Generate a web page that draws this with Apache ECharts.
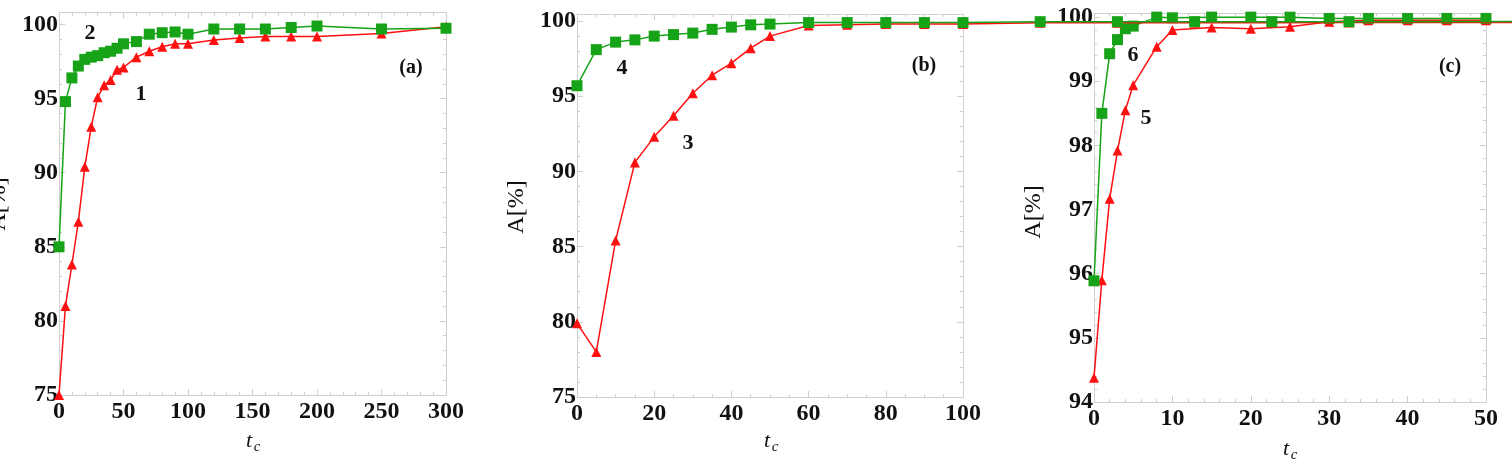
<!DOCTYPE html>
<html>
<head>
<meta charset="utf-8">
<script src="https://cdn.jsdelivr.net/npm/echarts@6/dist/echarts.min.js"></script>
<style>
  html, body { margin: 0; padding: 0; background: #fff; }
  #chart { width: 1512px; height: 462px; }
</style>
</head>
<body>
<div id="chart"></div>
<script>
// panel (a): curves 1 (red) and 2 (green)
var tA = [0, 5, 10, 15, 20, 25, 30, 35, 40, 45, 50, 60, 70, 80, 90, 100, 120, 140, 160, 180, 200, 250, 300];
var a1 = [75.0, 81.0, 83.8, 86.7, 90.4, 93.1, 95.1, 95.9, 96.25, 96.95, 97.1, 97.8, 98.2, 98.5, 98.7, 98.7, 98.95, 99.1, 99.2, 99.2, 99.2, 99.4, 99.85];
var a2 = [85.0, 94.8, 96.4, 97.2, 97.65, 97.8, 97.9, 98.1, 98.2, 98.4, 98.7, 98.85, 99.35, 99.45, 99.5, 99.35, 99.7, 99.7, 99.7, 99.8, 99.9, 99.7, 99.75];

// panel (b): curves 3 (red) and 4 (green), the tail runs past the frame
var tB = [0, 5, 10, 15, 20, 25, 30, 35, 40, 45, 50, 60, 70, 80, 90, 100, 120, 140, 160, 180, 200, 250, 300];
var b3 = [79.9, 78.0, 85.4, 90.6, 92.3, 93.7, 95.2, 96.4, 97.2, 98.2, 99.0, 99.7, 99.75, 99.8, 99.8, 99.8, 99.88, 99.88, 99.88, 99.88, 99.9, 99.9, 99.9];
var b4 = [95.7, 98.1, 98.6, 98.75, 99.0, 99.1, 99.2, 99.45, 99.6, 99.75, 99.8, 99.9, 99.9, 99.9, 99.9, 99.9, 99.96, 99.96, 99.96, 99.96, 99.96, 99.98, 99.98];

// panel (c): curves 5 (red) and 6 (green)
var tC = [0, 1, 2, 3, 4, 5, 8, 10, 15, 20, 25, 30, 35, 40, 45, 50];
var c5 = [94.38, 95.9, 97.17, 97.92, 98.55, 98.94, 99.54, 99.8, 99.84, 99.82, 99.85, 99.93, 99.95, 99.95, 99.95, 99.95];
var c6 = [95.89, 98.5, 99.43, 99.65, 99.82, 99.86, 100.0, 99.99, 100.0, 100.0, 100.0, 99.98, 99.98, 99.98, 99.98, 99.98];

var FONT = "'Liberation Serif', 'Times New Roman', serif";
var FRAME = '#cfcfcf';
var RED = '#ff1010';
var GREEN = '#17a317';

function pairs(xs, ys) {
  return xs.map(function (x, i) { return [x, ys[i]]; });
}

// frame axis: ticks inside, light grey line
function xAx(grid, min, max, interval, split, pos) {
  return {
    type: 'value', gridIndex: grid, position: pos, min: min, max: max, interval: interval,
    axisLine: { show: true, onZero: false, lineStyle: { color: FRAME, width: 1 } },
    axisTick: { show: true, inside: true, length: 6, lineStyle: { color: FRAME } },
    minorTick: { show: true, splitNumber: split, length: 3, lineStyle: { color: FRAME } },
    splitLine: { show: false },
    axisLabel: pos === 'bottom' ? {
      show: true, margin: 5, color: '#111', fontFamily: FONT, fontWeight: 'bold', fontSize: 24
    } : { show: false }
  };
}
function yAx(grid, min, max, interval, split, pos) {
  return {
    type: 'value', gridIndex: grid, position: pos, min: min, max: max, interval: interval,
    axisLine: { show: true, onZero: false, lineStyle: { color: FRAME, width: 1 } },
    axisTick: { show: true, inside: true, length: 6, lineStyle: { color: FRAME } },
    minorTick: { show: true, splitNumber: split, length: 3, lineStyle: { color: FRAME } },
    splitLine: { show: false },
    axisLabel: pos === 'left' ? {
      show: true, margin: 1, color: '#111', fontFamily: FONT, fontWeight: 'bold', fontSize: 24,
      showMaxLabel: false
    } : { show: false }
  };
}
// hidden axis, only used to place the panel (b) tail that runs out of its frame
function hidden(grid, min, max) {
  return {
    type: 'value', gridIndex: grid, min: min, max: max, show: false,
    splitLine: { show: false }
  };
}

function line(name, xi, yi, data, color, symbol, size, z) {
  return {
    name: name, type: 'line', xAxisIndex: xi, yAxisIndex: yi, data: data, z: z || 2,
    clip: false, symbol: symbol, symbolSize: size, showAllSymbol: true,
    lineStyle: { color: color, width: 1.5 },
    itemStyle: { color: color },
    animation: false
  };
}

function label(text, x, y, size, opts) {
  opts = opts || {};
  return {
    type: 'text', x: x, y: y, rotation: opts.rotation || 0, z: 100,
    style: {
      text: text, fill: '#111', align: 'center', verticalAlign: 'middle',
      font: (opts.style || '') + ' ' + (opts.weight || 'bold') + ' ' + size + 'px ' + FONT
    }
  };
}

// panel (b) frame is 386 px for 0..100; the wide hidden grid keeps that scale up to the page edge
var B_W = 386, WIDE_W = 935;

var chart = echarts.init(document.getElementById('chart'));
chart.setOption({
  backgroundColor: '#fff',
  animation: false,
  grid: [
    { left: 59, top: 12.7, width: 387, height: 382.3 },
    { left: 577, top: 14, width: B_W, height: 383 },
    { left: 1094, top: 13.3, width: 392, height: 388.7 },
    { left: 577, top: 14, width: WIDE_W, height: 383 }
  ],
  xAxis: [
    xAx(0, 0, 300, 50, 5, 'bottom'), xAx(0, 0, 300, 50, 5, 'top'),
    xAx(1, 0, 100, 20, 4, 'bottom'), xAx(1, 0, 100, 20, 4, 'top'),
    xAx(2, 0, 50, 10, 5, 'bottom'), xAx(2, 0, 50, 10, 5, 'top'),
    hidden(3, 0, 100 * WIDE_W / B_W)
  ],
  yAxis: [
    yAx(0, 75, 100.8, 5, 5, 'left'), yAx(0, 75, 100.8, 5, 5, 'right'),
    yAx(1, 75, 100.47, 5, 5, 'left'), yAx(1, 75, 100.47, 5, 5, 'right'),
    yAx(2, 94, 100.06, 1, 5, 'left'), yAx(2, 94, 100.06, 1, 5, 'right'),
    hidden(3, 75, 100.47)
  ],
  series: [
    line('1', 0, 0, pairs(tA, a1), RED, 'triangle', 10),
    line('2', 0, 0, pairs(tA, a2), GREEN, 'rect', 11),
    line('5', 4, 4, pairs(tC, c5), RED, 'triangle', 10),
    line('6', 4, 4, pairs(tC, c6), GREEN, 'rect', 11),
    line('3', 6, 6, pairs(tB, b3), RED, 'triangle', 10, 3),
    line('4', 6, 6, pairs(tB, b4), GREEN, 'rect', 11, 3)
  ],
  graphic: [
    label('2', 90, 33, 22), label('1', 141, 94, 22), label('(a)', 411, 68, 20),
    label('4', 622, 68, 22), label('3', 688, 143, 22), label('(b)', 924, 66, 20),
    label('6', 1133, 55, 22), label('5', 1146, 118, 22), label('(c)', 1450, 67, 20),
    label('A[%]', -1, 204, 24, { weight: 'normal', rotation: Math.PI / 2 }),
    label('A[%]', 517, 207, 24, { weight: 'normal', rotation: Math.PI / 2 }),
    label('A[%]', 1034, 212, 24, { weight: 'normal', rotation: Math.PI / 2 }),
    label('t', 249, 441, 22, { weight: 'normal', style: 'italic' }),
    label('c', 257, 447, 15, { weight: 'normal', style: 'italic' }),
    label('t', 767, 441, 22, { weight: 'normal', style: 'italic' }),
    label('c', 775, 447, 15, { weight: 'normal', style: 'italic' }),
    label('t', 1286, 449, 22, { weight: 'normal', style: 'italic' }),
    label('c', 1294, 455, 15, { weight: 'normal', style: 'italic' })
  ]
});
</script>
</body>
</html>
